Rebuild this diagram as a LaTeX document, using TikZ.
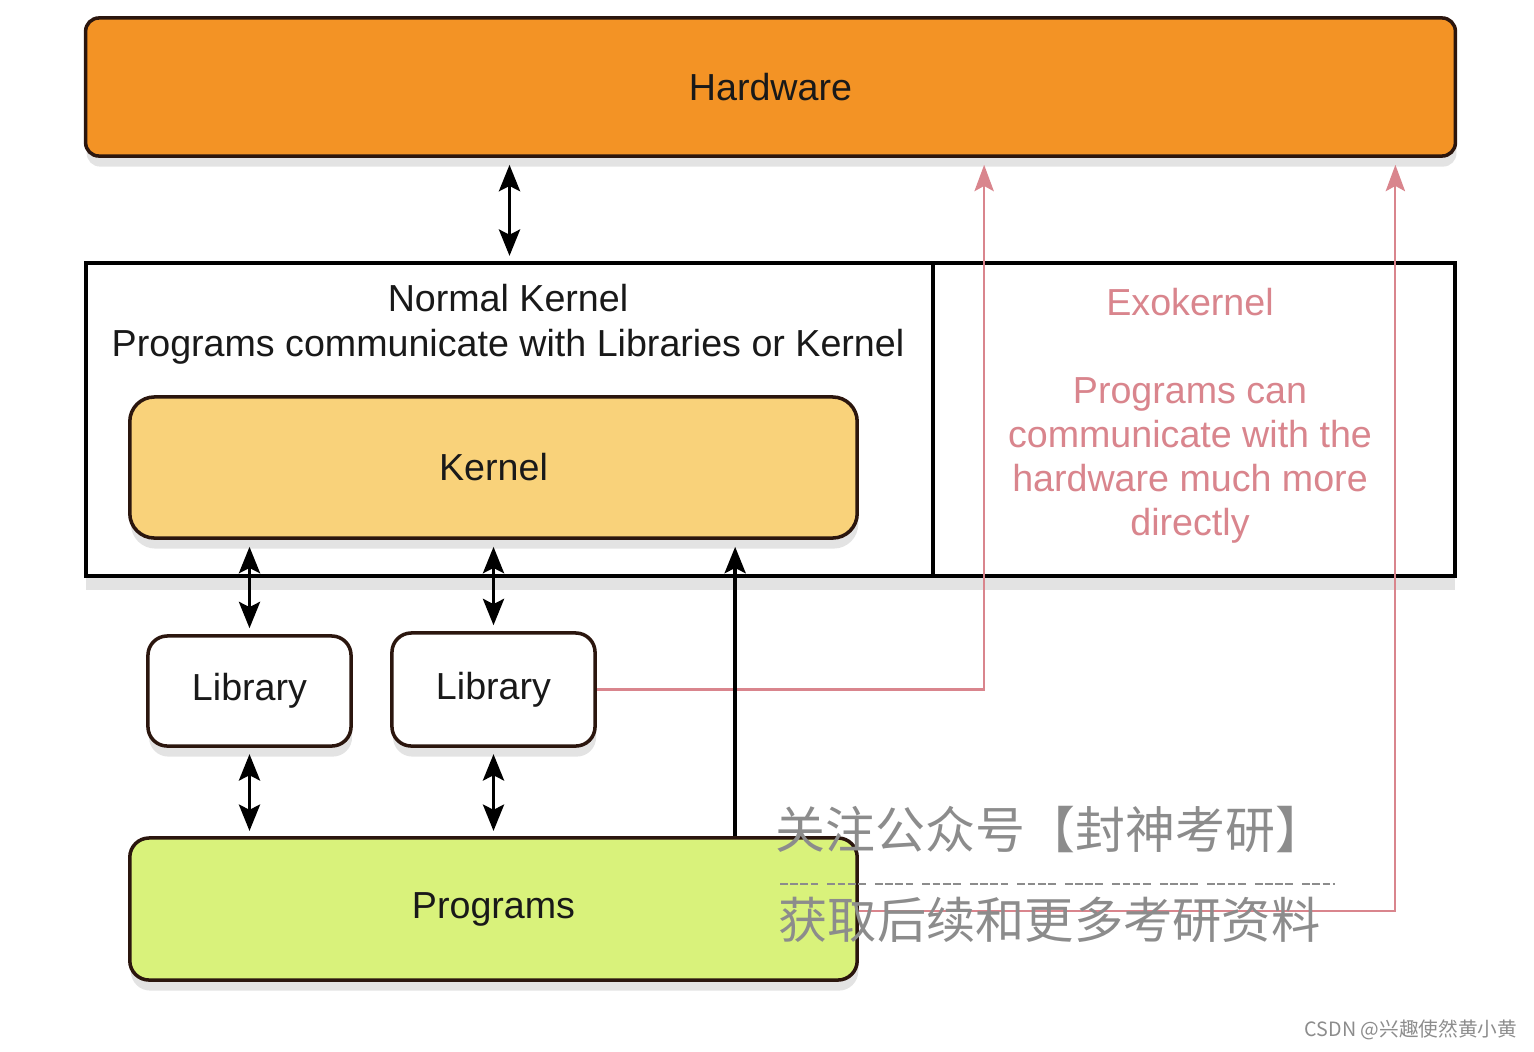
\documentclass[tikz,border=0pt]{standalone}
\usepackage{fontspec}
\setmainfont{Liberation Sans}
\newfontfamily\cjk{Noto Sans CJK SC}
\usetikzlibrary{arrows.meta,shadows}
\definecolor{hwfill}{HTML}{F39325}
\definecolor{kernfill}{HTML}{F9D27A}
\definecolor{progfill}{HTML}{D9F27B}
\definecolor{exopink}{HTML}{D9858D}
\definecolor{boxedge}{HTML}{2B160E}
\definecolor{markgray}{HTML}{8C8C8C}

\begin{document}
\begin{tikzpicture}[x=0.01cm,y=-0.01cm,
  every node/.style={font=\fontsize{10.7}{12.8}\selectfont,text=black!90,inner sep=0pt},
  layer/.style={draw=boxedge,line width=1pt,rounded corners=6pt,
    drop shadow={shadow xshift=0.3pt,shadow yshift=-3pt,opacity=0.22}},
  libbox/.style={layer,fill=white,minimum width=2.03cm,rounded corners=5.5pt},
  panel/.style={draw=black,line width=1.2pt,fill=white,minimum height=3.13cm,
    drop shadow={shadow xshift=0pt,shadow yshift=-4pt,opacity=0.22}},
  link/.style={line width=1pt,{Stealth[length=7.5pt,width=6pt,inset=1.5pt]}-{Stealth[length=7.5pt,width=6pt,inset=1.5pt]}},
  uplink/.style={line width=1pt,-{Stealth[length=7.5pt,width=6pt,inset=1.5pt]}},
  exolink/.style={draw=exopink,line width=0.6pt,-{Stealth[length=7.5pt,width=5.5pt,inset=1.5pt]}},
  wmark/.style={font=\cjk\fontsize{14.2}{16}\selectfont,text=markgray}]
  \useasboundingbox (0,0) rectangle (1534,1051);
  % layers
  \node[layer,fill=hwfill,minimum width=13.69cm,minimum height=1.38cm,rounded corners=3.8pt] (hw) at (770.5,87) {Hardware};
  \node[panel,minimum width=8.47cm] (nkl) at (509.5,419.5) {};
  \node[panel,minimum width=5.22cm] (nkr) at (1194,419.5) {};
  \node[align=center] (nktitle) at (508,324) {Normal Kernel\\Programs communicate with Libraries or Kernel};
  \node[align=center,text=exopink,font=\fontsize{10.7}{12.5}\selectfont] (exotext) at (1190,416)
    {Exokernel\\[12.5pt]Programs can\\communicate with the\\hardware much more\\directly};
  \node[layer,fill=kernfill,minimum width=7.27cm,minimum height=1.41cm,rounded corners=7pt] (kern) at (493.5,467.5) {Kernel};
  \node[libbox,minimum height=1.10cm] (lib1) at (249.5,691) {Library};
  \node[libbox,minimum height=1.13cm] (lib2) at (493.5,689.5) {Library};
  \node[layer,fill=progfill,minimum width=7.27cm,minimum height=1.42cm,rounded corners=5.5pt] (prog) at (493.5,909) {Programs};
  % exokernel paths
  \draw[exolink,shorten >=2pt] (lib2.east) -| ([xshift=2.135cm]hw.south);
  \draw[exolink,shorten >=2pt] ([yshift=-0.6pt]prog.east) -| ([xshift=6.245cm]hw.south);
  % normal paths
  \draw[link,shorten <=2pt,shorten >=1.4pt] (nkl.north |- hw.south) -- (nkl.north);
  \draw[link,shorten <=2pt,shorten >=1.7pt] (lib1.north |- kern.south) -- (lib1.north);
  \draw[link,shorten <=2pt,shorten >=1.7pt] (lib2.north |- kern.south) -- (lib2.north);
  \draw[link,shorten <=1.8pt,shorten >=1.5pt] (lib1.south) -- (lib1.south |- prog.north);
  \draw[link,shorten <=1.8pt,shorten >=1.5pt] (lib2.south) -- (lib2.south |- prog.north);
  \draw[uplink,shorten >=2pt] ([xshift=2.415cm]prog.north) -- ([xshift=2.415cm]kern.south);
  % watermark
  \node[wmark,anchor=west] (mark1) at (775,830) {关注公众号【封神考研】};
  \draw[markgray,line width=0.6pt,dash pattern=on 2.2pt off 0.7pt on 2.2pt off 0.7pt on 2.2pt off 0.7pt on 2.2pt off 2.6pt] (780,884) -- (1335,884);
  \node[wmark,anchor=west,font=\cjk\fontsize{14}{16}\selectfont] (mark2) at (778,920) {获取后续和更多考研资料};
  \node[anchor=east,font=\cjk\fontsize{5.6}{7}\selectfont,text=markgray] (csdn) at (1518,1030) {CSDN @兴趣使然黄小黄};
\end{tikzpicture}
\end{document}
